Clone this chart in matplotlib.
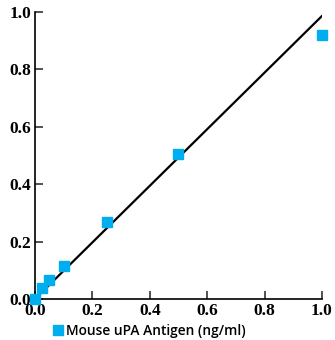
import matplotlib
matplotlib.use("Agg")
import matplotlib.pyplot as plt

conc = [0.0, 0.025, 0.05, 0.1, 0.25, 0.5, 1.0]
od = [0.0, 0.04, 0.065, 0.115, 0.27, 0.505, 0.92]
fit_x = [0.0, 1.0]
fit_y = [0.0, 0.986]
ticks = [0.0, 0.2, 0.4, 0.6, 0.8, 1.0]
label = "Mouse uPA Antigen (ng/ml)"

fig = plt.figure(figsize=(3.35, 3.4), dpi=100)
ax = fig.add_axes([0.1045, 0.1206, 0.8565, 0.8441])

ax.plot(fit_x, fit_y, color="black", lw=1.6, zorder=2)
ax.plot(conc, od, "s", color="#00AEEF", ms=7, lw=0, clip_on=False,
        zorder=3, label=label)

ax.set_xlim(0, 1)
ax.set_ylim(0, 1)
ax.set_xticks(ticks)
ax.set_yticks(ticks)
ax.set_xticklabels([f"{t:.1f}" for t in ticks])
ax.set_yticklabels([f"{t:.1f}" for t in ticks])
for lab in ax.get_xticklabels() + ax.get_yticklabels():
    lab.set_family("Liberation Serif")
    lab.set_fontweight("bold")
    lab.set_fontsize(12.5)
ax.tick_params(direction="in", length=6, width=1.2, color="#333333", pad=3)

for s in ["top", "right"]:
    ax.spines[s].set_visible(False)
for s in ["left", "bottom"]:
    ax.spines[s].set_linewidth(1.2)

ax.legend(loc="upper left", bbox_to_anchor=(0.04, -0.068), frameon=False,
          handletextpad=0.15, borderaxespad=0, handlelength=0.9,
          prop={"family": "Open Sans", "size": 9.9, "weight": "semibold"})

fig.savefig("out.png", dpi=100)
